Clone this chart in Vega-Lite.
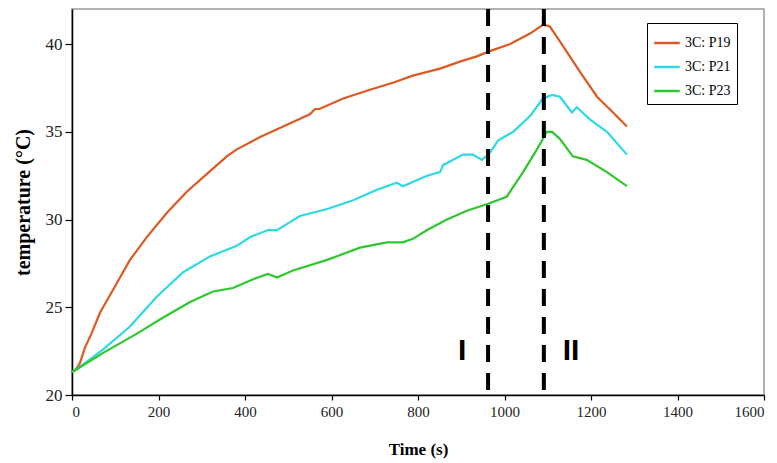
{
  "$schema": "https://vega.github.io/schema/vega-lite/v6.json",
  "width": 692,
  "height": 386,
  "autosize": {"type": "none"},
  "padding": {"left": 72, "top": 9, "right": 13, "bottom": 68},
  "background": "white",
  "config": {
    "view": {"stroke": "#999999", "strokeWidth": 1.5},
    "axis": {
      "grid": false,
      "domainColor": "black",
      "domainWidth": 1.5,
      "tickColor": "black",
      "tickWidth": 1.2,
      "labelFont": "Liberation Serif",
      "labelColor": "#222222",
      "titleFont": "Liberation Serif",
      "titleFontWeight": "bold",
      "titleColor": "black"
    }
  },
  "layer": [
    {
      "data": {"values": [
        {"series": "3C: P19", "t": 0, "T": 21.3},
        {"series": "3C: P19", "t": 10, "T": 21.5},
        {"series": "3C: P19", "t": 18, "T": 21.8},
        {"series": "3C: P19", "t": 30, "T": 22.7},
        {"series": "3C: P19", "t": 45, "T": 23.5},
        {"series": "3C: P19", "t": 65, "T": 24.7},
        {"series": "3C: P19", "t": 95, "T": 26.0},
        {"series": "3C: P19", "t": 134, "T": 27.7},
        {"series": "3C: P19", "t": 173, "T": 29.0},
        {"series": "3C: P19", "t": 220, "T": 30.4},
        {"series": "3C: P19", "t": 266, "T": 31.6},
        {"series": "3C: P19", "t": 312, "T": 32.6},
        {"series": "3C: P19", "t": 358, "T": 33.6},
        {"series": "3C: P19", "t": 381, "T": 34.0},
        {"series": "3C: P19", "t": 435, "T": 34.7},
        {"series": "3C: P19", "t": 497, "T": 35.4},
        {"series": "3C: P19", "t": 550, "T": 36.0},
        {"series": "3C: P19", "t": 562, "T": 36.3},
        {"series": "3C: P19", "t": 572, "T": 36.3},
        {"series": "3C: P19", "t": 627, "T": 36.9},
        {"series": "3C: P19", "t": 689, "T": 37.4},
        {"series": "3C: P19", "t": 742, "T": 37.8},
        {"series": "3C: P19", "t": 788, "T": 38.2},
        {"series": "3C: P19", "t": 851, "T": 38.6},
        {"series": "3C: P19", "t": 897, "T": 39.0},
        {"series": "3C: P19", "t": 936, "T": 39.3},
        {"series": "3C: P19", "t": 966, "T": 39.6},
        {"series": "3C: P19", "t": 1013, "T": 40.0},
        {"series": "3C: P19", "t": 1059, "T": 40.6},
        {"series": "3C: P19", "t": 1089, "T": 41.1},
        {"series": "3C: P19", "t": 1105, "T": 41.0},
        {"series": "3C: P19", "t": 1135, "T": 39.9},
        {"series": "3C: P19", "t": 1175, "T": 38.4},
        {"series": "3C: P19", "t": 1214, "T": 37.0},
        {"series": "3C: P19", "t": 1251, "T": 36.1},
        {"series": "3C: P19", "t": 1283, "T": 35.3},
        {"series": "3C: P21", "t": 0, "T": 21.3},
        {"series": "3C: P21", "t": 18, "T": 21.6},
        {"series": "3C: P21", "t": 40, "T": 22.0},
        {"series": "3C: P21", "t": 72, "T": 22.6},
        {"series": "3C: P21", "t": 134, "T": 23.9},
        {"series": "3C: P21", "t": 196, "T": 25.6},
        {"series": "3C: P21", "t": 257, "T": 27.0},
        {"series": "3C: P21", "t": 319, "T": 27.9},
        {"series": "3C: P21", "t": 381, "T": 28.5},
        {"series": "3C: P21", "t": 412, "T": 29.0},
        {"series": "3C: P21", "t": 453, "T": 29.4},
        {"series": "3C: P21", "t": 474, "T": 29.4},
        {"series": "3C: P21", "t": 527, "T": 30.2},
        {"series": "3C: P21", "t": 590, "T": 30.6},
        {"series": "3C: P21", "t": 650, "T": 31.1},
        {"series": "3C: P21", "t": 705, "T": 31.7},
        {"series": "3C: P21", "t": 751, "T": 32.1},
        {"series": "3C: P21", "t": 765, "T": 31.9},
        {"series": "3C: P21", "t": 821, "T": 32.5},
        {"series": "3C: P21", "t": 851, "T": 32.7},
        {"series": "3C: P21", "t": 858, "T": 33.1},
        {"series": "3C: P21", "t": 904, "T": 33.7},
        {"series": "3C: P21", "t": 927, "T": 33.7},
        {"series": "3C: P21", "t": 948, "T": 33.4},
        {"series": "3C: P21", "t": 966, "T": 33.8},
        {"series": "3C: P21", "t": 985, "T": 34.5},
        {"series": "3C: P21", "t": 1020, "T": 35.0},
        {"series": "3C: P21", "t": 1059, "T": 35.9},
        {"series": "3C: P21", "t": 1089, "T": 36.9},
        {"series": "3C: P21", "t": 1110, "T": 37.1},
        {"series": "3C: P21", "t": 1128, "T": 37.0},
        {"series": "3C: P21", "t": 1156, "T": 36.1},
        {"series": "3C: P21", "t": 1167, "T": 36.4},
        {"series": "3C: P21", "t": 1198, "T": 35.7},
        {"series": "3C: P21", "t": 1237, "T": 35.0},
        {"series": "3C: P21", "t": 1283, "T": 33.7},
        {"series": "3C: P23", "t": 0, "T": 21.3},
        {"series": "3C: P23", "t": 72, "T": 22.4},
        {"series": "3C: P23", "t": 150, "T": 23.5},
        {"series": "3C: P23", "t": 210, "T": 24.4},
        {"series": "3C: P23", "t": 273, "T": 25.3},
        {"series": "3C: P23", "t": 326, "T": 25.9},
        {"series": "3C: P23", "t": 372, "T": 26.1},
        {"series": "3C: P23", "t": 419, "T": 26.6},
        {"series": "3C: P23", "t": 453, "T": 26.9},
        {"series": "3C: P23", "t": 474, "T": 26.7},
        {"series": "3C: P23", "t": 511, "T": 27.1},
        {"series": "3C: P23", "t": 590, "T": 27.7},
        {"series": "3C: P23", "t": 666, "T": 28.4},
        {"series": "3C: P23", "t": 728, "T": 28.7},
        {"series": "3C: P23", "t": 765, "T": 28.7},
        {"series": "3C: P23", "t": 788, "T": 28.9},
        {"series": "3C: P23", "t": 821, "T": 29.4},
        {"series": "3C: P23", "t": 867, "T": 30.0},
        {"series": "3C: P23", "t": 913, "T": 30.5},
        {"series": "3C: P23", "t": 962, "T": 30.9},
        {"series": "3C: P23", "t": 1005, "T": 31.3},
        {"series": "3C: P23", "t": 1043, "T": 32.7},
        {"series": "3C: P23", "t": 1075, "T": 34.0},
        {"series": "3C: P23", "t": 1098, "T": 35.0},
        {"series": "3C: P23", "t": 1110, "T": 35.0},
        {"series": "3C: P23", "t": 1128, "T": 34.6},
        {"series": "3C: P23", "t": 1158, "T": 33.6},
        {"series": "3C: P23", "t": 1190, "T": 33.4},
        {"series": "3C: P23", "t": 1237, "T": 32.7},
        {"series": "3C: P23", "t": 1283, "T": 31.9}
      ]},
      "mark": {"type": "line", "strokeWidth": 2.2},
      "encoding": {
        "x": {"field": "t", "type": "quantitative", "title": "Time (s)",
              "scale": {"domain": [0, 1600], "nice": false},
              "axis": {"values": [0, 200, 400, 600, 800, 1000, 1200, 1400, 1600], "format": "d",
                       "labelFontSize": 15, "tickSize": 5, "labelPadding": 4, "titleFontSize": 17, "titlePadding": 22}},
        "y": {"field": "T", "type": "quantitative", "title": "temperature (°C)",
              "scale": {"domain": [20, 42], "nice": false, "zero": false},
              "axis": {"values": [20, 25, 30, 35, 40], "labelFontSize": 17, "tickSize": 7, "labelPadding": 3,
                       "titleFontSize": 20, "titlePadding": 12}},
        "color": {"field": "series", "type": "nominal",
                  "scale": {"domain": ["3C: P19", "3C: P21", "3C: P23"], "range": ["#DC5A22", "#2ED8E6", "#2EC82E"]},
                  "legend": {"title": null, "orient": "none", "legendX": 575, "legendY": 14,
                             "symbolType": "stroke", "symbolStrokeWidth": 2.5, "symbolSize": 650,
                             "labelFont": "Liberation Serif", "labelFontSize": 14, "labelColor": "black", "labelOffset": 4,
                             "strokeColor": "black", "padding": 6, "rowPadding": 3, "fillColor": "white"}}
      }
    },
    {
      "data": {"values": [{"t": 962}, {"t": 1091}]},
      "mark": {"type": "rule", "color": "black", "strokeWidth": 4, "strokeDash": [17, 11]},
      "encoding": {"x": {"field": "t", "type": "quantitative"}}
    },
    {
      "data": {"values": [{"t": 902, "T": 22.5, "label": "I"}, {"t": 1154, "T": 22.5, "label": "II"}]},
      "mark": {"type": "text", "font": "Liberation Sans", "fontWeight": "bold", "fontSize": 30, "baseline": "middle", "align": "center", "color": "black"},
      "encoding": {
        "x": {"field": "t", "type": "quantitative"},
        "y": {"field": "T", "type": "quantitative"},
        "text": {"field": "label"}
      }
    }
  ]
}
